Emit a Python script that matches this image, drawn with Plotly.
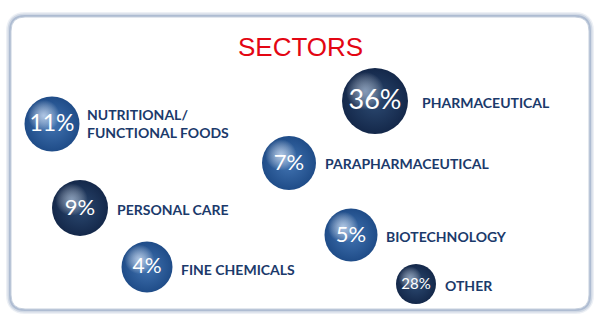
import plotly.graph_objects as go

# ---- data ----
categories = ["PHARMACEUTICAL", "NUTRITIONAL/<br>FUNCTIONAL FOODS", "PARAPHARMACEUTICAL",
              "PERSONAL CARE", "BIOTECHNOLOGY", "FINE CHEMICALS", "OTHER"]
values = [36, 11, 7, 9, 5, 4, 28]
value_labels = [f"{v}%" for v in values]

# ---- layout (pixel positions in a 600x322 canvas) ----
bubble_x = [375, 52, 289, 80, 351, 147, 416]
bubble_y = [101, 124, 163, 208, 235, 267, 284]
bubble_d = [66, 55, 54, 56, 53, 51, 40]
label_x = [420, 85, 323, 115, 384, 179, 443]
label_y = [102, 123, 163, 209, 236, 269, 285]
text_size = [27, 23, 22, 22, 22, 21, 15]
dark = [True, False, False, True, False, False, True]

W, H = 600, 322
fig = go.Figure()

def rrect(x0, y0, x1, y1, r):
    return (f"M {x0+r},{y0} L {x1-r},{y0} Q {x1},{y0} {x1},{y0+r} L {x1},{y1-r} "
            f"Q {x1},{y1} {x1-r},{y1} L {x0+r},{y1} Q {x0},{y1} {x0},{y1-r} "
            f"L {x0},{y0+r} Q {x0},{y0} {x0+r},{y0} Z")

shapes = []
for w, a in [(10, 0.12), (7, 0.22), (4, 0.35)]:
    shapes.append(dict(type="path", path=rrect(11, 17, 589, 309, 14), xref="x", yref="y",
                       line=dict(color=f"rgba(110,135,175,{a})", width=w), fillcolor="rgba(0,0,0,0)", layer="below"))
shapes.append(dict(type="path", path=rrect(11, 17, 589, 309, 14), xref="x", yref="y",
                   line=dict(color="#c5cfdd", width=1), fillcolor="white", layer="below"))

for i in range(len(values)):
    x, y, d = bubble_x[i], bubble_y[i], bubble_d[i]
    if dark[i]:
        edge, mid, hl = "#14284a", "#2c4a72", "rgba(175,195,220,0.7)"
    else:
        edge, mid, hl = "#1f4c88", "#4274b2", "rgba(205,222,245,0.8)"
    fig.add_trace(go.Scatter(x=[x], y=[y], mode="markers", hoverinfo="skip", showlegend=False,
                             marker=dict(size=d, color=edge, line=dict(width=0),
                                         gradient=dict(type="radial", color=mid))))
    off = d * 0.15
    fig.add_trace(go.Scatter(x=[x - off], y=[y - off], mode="markers", hoverinfo="skip", showlegend=False,
                             marker=dict(size=d * 0.58, color="rgba(255,255,255,0)", line=dict(width=0),
                                         gradient=dict(type="radial", color=hl))))

for i in range(len(values)):
    fig.add_trace(go.Scatter(x=[bubble_x[i]], y=[bubble_y[i] + 1], mode="text", text=[value_labels[i]],
                             textposition="middle center", hoverinfo="skip", showlegend=False,
                             textfont=dict(family="Lato, Open Sans, sans-serif", size=text_size[i], color="white")))

annotations = []
for i, c in enumerate(categories):
    annotations.append(dict(x=label_x[i], y=label_y[i], xref="x", yref="y", text=c, showarrow=False,
                            xanchor="left", yanchor="middle", align="left",
                            font=dict(family="Lato, Arial, sans-serif", size=14, color="#1b3a6b", weight="bold")))
annotations.append(dict(x=300, y=47, xref="x", yref="y", text="SECTORS", showarrow=False,
                        xanchor="center", yanchor="middle",
                        font=dict(family="Liberation Sans Narrow, Arial Narrow, sans-serif", size=26,
                                  color="#e30613")))

fig.update_layout(width=W, height=H, margin=dict(l=0, r=0, t=0, b=0),
                  paper_bgcolor="white", plot_bgcolor="white",
                  xaxis=dict(range=[0, W], visible=False, fixedrange=True),
                  yaxis=dict(range=[H, 0], visible=False, fixedrange=True),
                  shapes=shapes, annotations=annotations)
fig.write_html("out.html", config={"displayModeBar": False})
